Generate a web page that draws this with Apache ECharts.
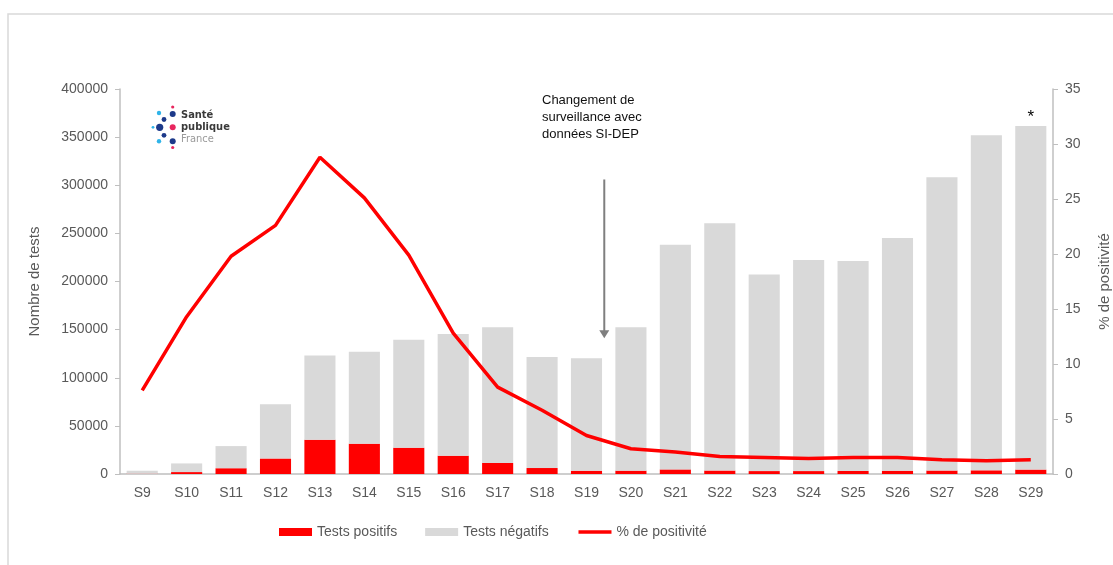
<!DOCTYPE html>
<html>
<head>
<meta charset="utf-8">
<title>Tests et positivité</title>
<script src="https://cdn.jsdelivr.net/npm/echarts@6/dist/echarts.min.js"></script>
<style>
  html, body { margin: 0; padding: 0; background: #fff; }
  #chart { width: 1113px; height: 565px; }
</style>
</head>
<body>
<div id="chart"></div>
<script>
// semaines
const weeks = ['S9', 'S10', 'S11', 'S12', 'S13', 'S14', 'S15', 'S16', 'S17', 'S18', 'S19',
  'S20', 'S21', 'S22', 'S23', 'S24', 'S25', 'S26', 'S27', 'S28', 'S29']

// tests positifs / negatifs
const positifs = [300, 2000, 6000, 16000, 35500, 31500, 27300, 19000, 11500, 6200, 3500,
  3500, 4800, 3600, 3000, 3000, 3200, 3500, 3600, 3800, 4600]
const negatifs = [3100, 9000, 23000, 56400, 87500, 95500, 112200, 126500, 140900, 115400, 116700,
  148900, 233500, 256800, 204400, 219300, 218100, 241700, 304600, 348100, 356900]

// % de positivite
const positivite = [7.6, 14.3, 19.8, 22.6, 28.8, 25.1, 19.9, 12.8, 7.9, 5.8, 3.5,
  2.3, 2.0, 1.6, 1.5, 1.4, 1.5, 1.5, 1.3, 1.2, 1.3]

const leftTicks = { min: 0, max: 400000, interval: 50000 }
const rightTicks = { min: 0, max: 35, interval: 5 }

const font = 'Arial, "Liberation Sans", sans-serif'
const txt = '#595959'
const axisGray = '#bfbfbf'

let myChart = echarts.init(document.getElementById('chart'))

myChart.setOption({
  backgroundColor: '#fff',
  animation: false,
  textStyle: { fontFamily: font },
  grid: { left: 120, right: 60, top: 89, bottom: 91, outerBoundsMode: 'none' },
  legend: {
    left: 274,
    top: 520,
    itemWidth: 33,
    itemHeight: 8,
    itemGap: 28,
    textStyle: { color: txt, fontSize: 14, fontFamily: font },
    data: [
      { name: 'Tests positifs', icon: 'rect' },
      { name: 'Tests négatifs', icon: 'rect' },
      { name: '% de positivité', itemStyle: { opacity: 0 }, lineStyle: { width: 3.5 } }
    ]
  },
  xAxis: {
    type: 'category',
    data: weeks,
    axisLine: { lineStyle: { color: axisGray, width: 1.5 } },
    axisTick: { show: false },
    axisLabel: { color: txt, fontSize: 14, margin: 12 }
  },
  yAxis: [
    {
      type: 'value',
      min: leftTicks.min,
      max: leftTicks.max,
      interval: leftTicks.interval,
      name: 'Nombre de tests',
      nameLocation: 'middle',
      nameRotate: 90,
      nameGap: 78,
      nameTextStyle: { color: txt, fontSize: 15 },
      axisLine: { show: true, lineStyle: { color: axisGray, width: 1.5 } },
      axisTick: { show: true, length: 5, lineStyle: { color: axisGray } },
      axisLabel: { color: txt, fontSize: 14, margin: 12, formatter: v => String(v) },
      splitLine: { show: false }
    },
    {
      type: 'value',
      min: rightTicks.min,
      max: rightTicks.max,
      interval: rightTicks.interval,
      name: '% de positivité',
      nameLocation: 'middle',
      nameRotate: 90,
      nameGap: 44,
      nameTextStyle: { color: txt, fontSize: 15 },
      axisLine: { show: true, lineStyle: { color: axisGray, width: 1.5 } },
      axisTick: { show: true, length: 5, lineStyle: { color: axisGray } },
      axisLabel: { color: txt, fontSize: 14, margin: 12 },
      splitLine: { show: false }
    }
  ],
  series: [
    {
      name: 'Tests positifs',
      type: 'bar',
      stack: 'tests',
      barWidth: '70%',
      itemStyle: { color: '#ff0000' },
      data: positifs
    },
    {
      name: 'Tests négatifs',
      type: 'bar',
      stack: 'tests',
      itemStyle: { color: '#d9d9d9' },
      data: negatifs.map((v, i) => i === negatifs.length - 1
        ? { value: v, label: { show: true, position: 'top', distance: 0, formatter: '*', color: '#000', fontSize: 17 } }
        : v)
    },
    {
      name: '% de positivité',
      type: 'line',
      yAxisIndex: 1,
      symbol: 'none',
      lineStyle: { color: '#ff0000', width: 3.5 },
      itemStyle: { color: '#ff0000' },
      data: positivite
    }
  ]
})

// annotation + logo + cadre
const x19 = myChart.convertToPixel({ xAxisIndex: 0 }, 'S19')
const x20 = myChart.convertToPixel({ xAxisIndex: 0 }, 'S20')
const arrowX = x19 + (x20 - x19) * 0.4
const arrowTop = myChart.convertToPixel({ yAxisIndex: 0 }, 306000)
const arrowTip = myChart.convertToPixel({ yAxisIndex: 0 }, 141000)

const dark = '#1d3a8a', light = '#2fb4e9', pink = '#e8265e'
const dots = [
  [159, 113, 2.2, light], [172.7, 107, 1.6, pink], [172.7, 114, 3, dark], [164, 119.5, 2.4, dark],
  [153, 127.3, 1.4, light], [159.7, 127.3, 3.6, dark], [172.7, 127.3, 3, pink], [164, 135.3, 2.4, dark],
  [159, 141.3, 2.2, light], [172.7, 141.3, 3, dark], [172.7, 147.5, 1.6, pink]
]

myChart.setOption({
  graphic: [
    {
      type: 'rect',
      silent: true,
      shape: { x: 8, y: 14, width: 2000, height: 2000 },
      style: { fill: 'none', stroke: '#d9d9d9', lineWidth: 1.5 }
    },
    {
      type: 'text',
      left: 542,
      top: 92,
      style: {
        text: 'Changement de\nsurveillance avec\ndonnées SI-DEP',
        fill: '#111',
        font: '13px ' + font,
        lineHeight: 17
      }
    },
    {
      type: 'line',
      shape: { x1: arrowX, y1: arrowTop, x2: arrowX, y2: arrowTip - 7 },
      style: { stroke: '#7f7f7f', lineWidth: 2 }
    },
    {
      type: 'polygon',
      shape: { points: [[arrowX - 5, arrowTip - 8], [arrowX + 5, arrowTip - 8], [arrowX, arrowTip]] },
      style: { fill: '#7f7f7f' }
    },
    ...dots.map(d => ({
      type: 'circle',
      shape: { cx: d[0], cy: d[1], r: d[2] },
      style: { fill: d[3] }
    })),
    {
      type: 'text',
      left: 181,
      top: 109,
      style: { text: 'Santé\npublique', fill: '#3a3a3a', font: 'bold 11px "DejaVu Sans Condensed", ' + font, lineHeight: 12 }
    },
    {
      type: 'text',
      left: 181,
      top: 134,
      style: { text: 'France', fill: '#9a9a9a', font: '11px "DejaVu Sans Condensed", ' + font }
    }
  ]
})

window.addEventListener('resize', function() {
  myChart.resize()
})
</script>
</body>
</html>
